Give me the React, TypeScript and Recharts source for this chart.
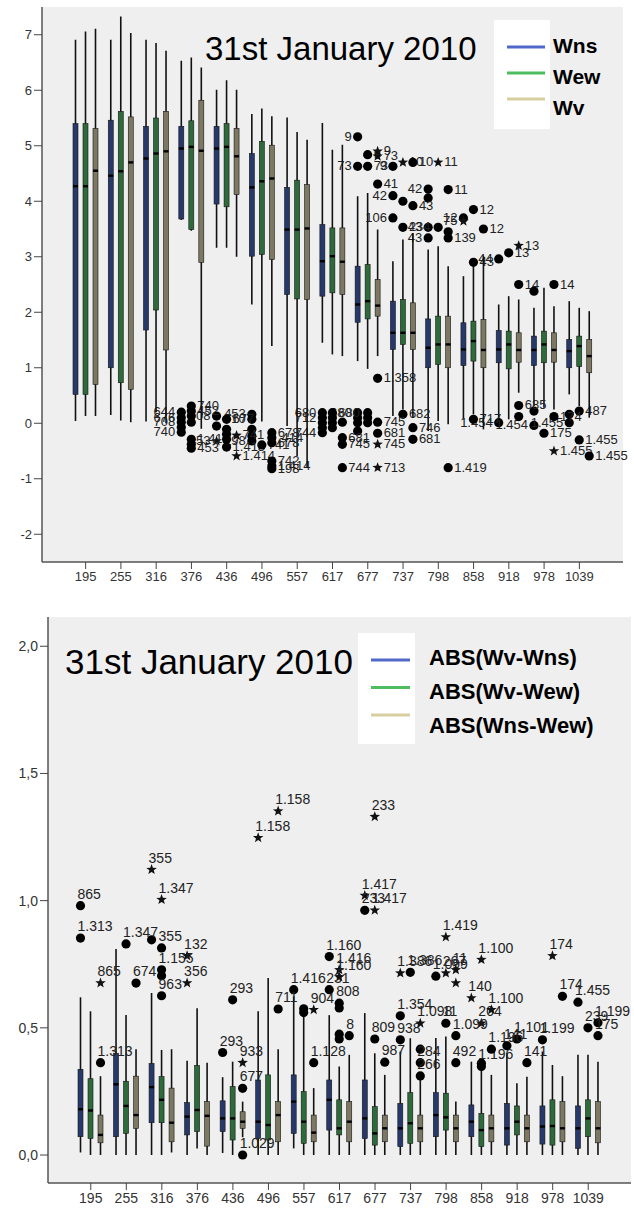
import React from 'react';
import { ComposedChart, Bar, XAxis, YAxis, CartesianGrid } from 'recharts';

const categories = ['195', '255', '316', '376', '436', '496', '557', '617', '677', '737', '798', '858', '918', '978', '1039'];

// box stats per category: [whisker low, Q1, median, Q3, whisker high]
const topWns = [
  [0.04, 0.52, 4.27, 5.4, 6.91], [0.15, 1.0, 4.46, 5.46, 6.91], [0.03, 1.68, 4.77, 5.35, 6.91],
  [3.66, 3.68, 4.95, 5.35, 6.53], [3.16, 3.95, 4.95, 5.35, 6.01], [2.14, 3.01, 4.25, 4.86, 5.57],
  [-0.05, 2.32, 3.49, 4.25, 5.51], [1.45, 2.29, 2.92, 3.58, 5.41], [1.12, 1.82, 2.14, 2.83, 4.09],
  [0.13, 1.33, 1.63, 2.2, 2.92], [-0.14, 1.0, 1.36, 1.88, 3.13], [0.07, 1.04, 1.33, 1.81, 2.65],
  [0.07, 1.09, 1.33, 1.67, 2.14], [0.31, 1.04, 1.32, 1.57, 2.08], [0.52, 1.0, 1.3, 1.51, 2.2],
];
const topWew = [
  [0.13, 0.52, 4.27, 5.4, 7.06], [0.05, 0.73, 4.54, 5.62, 7.33], [0.2, 2.04, 4.86, 5.5, 6.85],
  [3.47, 3.49, 4.98, 5.45, 6.59], [3.16, 3.9, 4.98, 5.4, 6.18], [0.03, 3.04, 4.36, 5.08, 5.67],
  [-0.59, 2.24, 3.49, 4.38, 5.25], [1.24, 2.35, 3.01, 3.52, 4.93], [0.98, 1.88, 2.2, 2.86, 4.15],
  [0.25, 1.42, 1.63, 2.23, 3.31], [0.04, 1.06, 1.42, 1.93, 3.19], [0.16, 1.12, 1.48, 1.84, 2.83],
  [0.07, 0.98, 1.42, 1.66, 2.29], [0.28, 1.09, 1.42, 1.66, 2.44], [0.31, 1.02, 1.39, 1.57, 2.08],
];
const topWv = [
  [0.13, 0.7, 4.55, 5.31, 7.11], [0.02, 0.61, 4.7, 5.52, 7.03], [0.0, 1.32, 4.9, 5.62, 6.71],
  [-0.1, 2.9, 4.91, 5.82, 6.41], [3.0, 4.12, 4.81, 5.31, 6.01], [1.39, 2.95, 4.41, 5.01, 5.53],
  [-0.8, 2.23, 3.51, 4.3, 5.11], [1.21, 2.32, 2.91, 3.52, 5.02], [1.21, 1.93, 2.12, 2.59, 3.49],
  [0.1, 1.33, 1.63, 2.17, 3.43], [-0.02, 1.0, 1.42, 1.93, 2.83], [-0.11, 1.0, 1.32, 1.87, 3.01],
  [0.55, 1.1, 1.32, 1.63, 2.23], [0.25, 1.1, 1.32, 1.63, 2.11], [0.1, 0.91, 1.21, 1.51, 2.02],
];

const absVnsBox = [
  [0.01, 0.072, 0.18, 0.337, 0.62], [0.0, 0.072, 0.278, 0.4, 0.81], [0.0, 0.127, 0.267, 0.36, 0.637],
  [0.0, 0.079, 0.151, 0.206, 0.371], [0.008, 0.092, 0.144, 0.213, 0.306], [0.0, 0.065, 0.131, 0.295, 0.565],
  [0.026, 0.085, 0.21, 0.315, 0.624], [0.0, 0.098, 0.217, 0.295, 0.55], [0.0, 0.065, 0.144, 0.295, 0.558],
  [0.0, 0.033, 0.105, 0.203, 0.407], [0.0, 0.072, 0.157, 0.245, 0.46], [0.0, 0.072, 0.131, 0.197, 0.367],
  [0.0, 0.039, 0.105, 0.203, 0.4], [0.0, 0.043, 0.112, 0.193, 0.407], [0.0, 0.026, 0.105, 0.193, 0.394],
];
const absVewBox = [
  [0.0, 0.065, 0.175, 0.3, 0.565], [0.0, 0.085, 0.193, 0.29, 0.55], [0.0, 0.127, 0.217, 0.308, 0.413],
  [0.026, 0.092, 0.177, 0.352, 0.577], [0.0, 0.059, 0.144, 0.269, 0.367], [0.0, 0.059, 0.118, 0.315, 0.696],
  [0.0, 0.046, 0.131, 0.249, 0.55], [0.0, 0.079, 0.105, 0.217, 0.348], [0.0, 0.039, 0.085, 0.19, 0.4],
  [0.0, 0.046, 0.125, 0.245, 0.459], [0.0, 0.098, 0.148, 0.243, 0.466], [0.0, 0.033, 0.098, 0.164, 0.341],
  [0.0, 0.079, 0.131, 0.193, 0.282], [0.0, 0.039, 0.114, 0.217, 0.354], [0.0, 0.072, 0.144, 0.217, 0.394],
];
const absNsEwBox = [
  [0.0, 0.048, 0.079, 0.157, 0.31], [0.0, 0.105, 0.157, 0.31, 0.416], [0.01, 0.052, 0.127, 0.263, 0.416],
  [0.0, 0.035, 0.154, 0.21, 0.363], [0.07, 0.105, 0.131, 0.17, 0.21], [0.0, 0.052, 0.157, 0.21, 0.416],
  [0.0, 0.052, 0.088, 0.157, 0.263], [0.0, 0.052, 0.131, 0.21, 0.394], [0.0, 0.052, 0.105, 0.157, 0.315],
  [0.0, 0.052, 0.105, 0.157, 0.31], [0.0, 0.052, 0.105, 0.157, 0.21], [0.0, 0.052, 0.105, 0.157, 0.315],
  [0.0, 0.052, 0.105, 0.157, 0.308], [0.0, 0.052, 0.105, 0.21, 0.31], [0.0, 0.048, 0.105, 0.21, 0.367],
];

// outliers: [category index, series index, value, 'o' circle | '*' extreme, case label]
type Out = [number, number, number, string, string];

const topOutliers: Out[] = [
  [3, 0, 0.2, 'o', '644'], [3, 0, 0.1, 'o', '676'], [3, 0, 0.02, 'o', '708'], [3, 0, -0.07, 'o', ''], [3, 0, -0.16, 'o', '740'],
  [3, 1, 0.31, 'o', '740'], [3, 1, 0.22, 'o', '452'], [3, 1, 0.13, 'o', ''], [3, 1, 0.02, 'o', ''],
  [3, 1, -0.29, 'o', '1.412'], [3, 1, -0.38, 'o', ''], [3, 1, -0.45, 'o', '453'],
  [4, 0, 0.13, 'o', '708'], [4, 0, -0.05, 'o', ''], [4, 0, -0.32, '*', '453'],
  [4, 1, 0.07, 'o', '677'], [4, 1, -0.11, 'o', ''], [4, 1, -0.2, 'o', ''], [4, 1, -0.29, 'o', ''], [4, 1, -0.43, 'o', '1.413'],
  [4, 2, -0.22, '*', '741'], [4, 2, -0.59, '*', '1.414'],
  [5, 0, 0.16, 'o', '453'], [5, 0, 0.07, 'o', '710'], [5, 0, -0.11, 'o', ''], [5, 0, -0.23, 'o', ''], [5, 0, -0.32, 'o', '198'],
  [5, 1, -0.39, 'o', '741'],
  [5, 2, -0.17, 'o', '678'], [5, 2, -0.26, 'o', '.414'], [5, 2, -0.35, 'o', '678'], [5, 2, -0.68, 'o', '742'],
  [5, 2, -0.77, 'o', '1.414'], [5, 2, -0.82, 'o', '198'],
  [7, 0, 0.19, 'o', '680'], [7, 0, 0.1, 'o', '712'], [7, 0, 0.01, 'o', ''], [7, 0, -0.08, 'o', ''], [7, 0, -0.17, 'o', '744'],
  [7, 1, 0.19, 'o', '680'], [7, 1, 0.1, 'o', ''], [7, 1, 0.01, 'o', ''], [7, 1, -0.08, 'o', ''],
  [7, 2, 0.02, 'o', ''], [7, 2, -0.26, 'o', '681'], [7, 2, -0.38, 'o', '745'], [7, 2, -0.8, 'o', '744'],
  [8, 0, 5.16, 'o', '9'], [8, 0, 4.63, 'o', '73'], [8, 0, 0.19, 'o', '680'], [8, 0, 0.1, 'o', ''], [8, 0, 0.01, 'o', ''], [8, 0, -0.14, 'o', ''],
  [8, 1, 4.84, 'o', '9'], [8, 1, 4.63, 'o', '73'], [8, 1, 0.19, 'o', ''], [8, 1, 0.1, 'o', ''], [8, 1, 0.01, 'o', ''],
  [8, 2, 4.9, '*', '9'], [8, 2, 4.81, '*', '73'], [8, 2, 4.31, 'o', '41'], [8, 2, 0.81, 'o', '1.358'],
  [8, 2, 0.02, 'o', '745'], [8, 2, -0.18, 'o', '681'], [8, 2, -0.38, '*', '745'], [8, 2, -0.8, '*', '713'],
  [9, 0, 4.63, 'o', '9'], [9, 0, 4.1, 'o', '42'], [9, 0, 3.7, 'o', '106'],
  [9, 1, 4.7, '*', '10'], [9, 1, 4.0, 'o', ''], [9, 1, 3.53, 'o', '234'], [9, 1, 0.16, 'o', '682'],
  [9, 2, 4.7, 'o', '10'], [9, 2, 3.92, 'o', '43'], [9, 2, -0.08, 'o', '746'], [9, 2, -0.29, 'o', '681'],
  [10, 0, 4.22, 'o', '42'], [10, 0, 4.06, 'o', ''], [10, 0, 3.53, 'o', '43'], [10, 0, 3.34, 'o', '43'],
  [10, 1, 4.7, '*', '11'], [10, 1, 3.53, 'o', ''],
  [10, 2, 4.21, 'o', '11'], [10, 2, 3.45, 'o', ''], [10, 2, 3.34, 'o', '139'], [10, 2, -0.8, 'o', '1.419'],
  [11, 0, 3.7, 'o', '12'], [11, 0, 3.64, '*', '75'],
  [11, 1, 3.85, 'o', '12'], [11, 1, 2.9, 'o', '43'], [11, 1, 0.07, 'o', '717'],
  [11, 2, 3.5, 'o', '12'],
  [12, 0, 2.96, 'o', '44'], [12, 0, 0.01, 'o', '1.454'],
  [12, 1, 3.07, 'o', '13'],
  [12, 2, 3.2, '*', '13'], [12, 2, 2.5, 'o', '14'], [12, 2, 0.32, 'o', '685'], [12, 2, 0.12, 'o', ''],
  [13, 0, 2.38, 'o', ''], [13, 0, 0.22, 'o', ''], [13, 0, -0.04, 'o', '1.454'],
  [13, 1, -0.18, 'o', '175'],
  [13, 2, 2.5, 'o', '14'], [13, 2, 0.12, 'o', '174'], [13, 2, -0.5, '*', '1.455'],
  [14, 0, 0.16, 'o', ''], [14, 0, 0.01, 'o', '1.455'],
  [14, 1, 0.22, 'o', '487'], [14, 1, -0.3, 'o', '1.455'],
  [14, 2, -0.59, 'o', '1.455'],
];

const bottomOutliers: Out[] = [
  [0, 0, 0.98, 'o', '865'], [0, 0, 0.853, 'o', '1.313'],
  [0, 2, 0.676, '*', '865'], [0, 2, 0.363, 'o', '1.313'],
  [1, 1, 0.83, 'o', '1.347'],
  [1, 2, 0.676, 'o', '674'],
  [2, 0, 1.122, '*', '355'], [2, 0, 0.846, 'o', ''],
  [2, 1, 1.004, '*', '1.347'], [2, 1, 0.814, 'o', '355'], [2, 1, 0.728, 'o', '1.155'], [2, 1, 0.705, 'o', ''], [2, 1, 0.626, 'o', '963'],
  [3, 0, 0.783, '*', '132'], [3, 0, 0.676, '*', '356'],
  [4, 0, 0.403, 'o', '293'],
  [4, 1, 0.61, 'o', '293'],
  [4, 2, 0.363, '*', '933'], [4, 2, 0.262, 'o', '677'], [4, 2, 0.0, 'o', '1.029'],
  [5, 0, 1.247, '*', '1.158'],
  [5, 2, 1.352, '*', '1.158'], [5, 2, 0.574, 'o', '711'],
  [6, 0, 0.65, 'o', '1.416'],
  [6, 1, 0.575, 'o', ''], [6, 1, 0.56, 'o', ''],
  [6, 2, 0.571, '*', '904'], [6, 2, 0.363, 'o', '1.128'],
  [7, 0, 0.78, 'o', '1.160'], [7, 0, 0.65, 'o', '231'],
  [7, 1, 0.728, '*', '1.416'], [7, 1, 0.7, '*', '1.160'], [7, 1, 0.597, 'o', '808'], [7, 1, 0.578, 'o', ''],
  [7, 1, 0.475, 'o', ''], [7, 1, 0.456, 'o', ''],
  [7, 2, 0.469, 'o', '8'],
  [8, 0, 1.02, '*', '1.417'], [8, 0, 0.962, 'o', '233'],
  [8, 1, 1.33, '*', '233'], [8, 1, 0.962, '*', '1.417'], [8, 1, 0.456, 'o', '809'],
  [8, 2, 0.365, 'o', '987'],
  [9, 0, 0.715, '*', '1.386'], [9, 0, 0.547, 'o', '1.354'], [9, 0, 0.453, 'o', '938'],
  [9, 1, 0.718, 'o', '1.386'],
  [9, 2, 0.518, '*', '1.098'], [9, 2, 0.416, 'o', ''], [9, 2, 0.363, 'o', '284'], [9, 2, 0.311, 'o', '266'],
  [10, 0, 0.703, 'o', '1.099'],
  [10, 1, 0.857, '*', '1.419'], [10, 1, 0.715, '*', '267'], [10, 1, 0.518, 'o', '11'],
  [10, 2, 0.728, '*', '11'], [10, 2, 0.676, '*', ''], [10, 2, 0.469, 'o', '1.099'], [10, 2, 0.363, 'o', '492'],
  [11, 0, 0.617, '*', '140'],
  [11, 1, 0.768, '*', '1.100'], [11, 1, 0.518, '*', '204'], [11, 1, 0.361, 'o', ''], [11, 1, 0.348, 'o', '1.196'],
  [11, 2, 0.571, '*', '1.100'], [11, 2, 0.416, 'o', '1.196'],
  [12, 0, 0.43, 'o', '141'],
  [12, 1, 0.456, 'o', '1.101'],
  [12, 2, 0.363, 'o', '141'],
  [13, 0, 0.453, 'o', '1.199'],
  [13, 1, 0.783, '*', '174'],
  [13, 2, 0.624, 'o', '174'],
  [14, 0, 0.601, 'o', '1.455'],
  [14, 1, 0.5, 'o', '239'],
  [14, 2, 0.52, 'o', '1.199'], [14, 2, 0.469, 'o', '175'],
];

const topSeries = ['Wns', 'Wew', 'Wv'];
const bottomSeries = ['ABS(Wv-Wns)', 'ABS(Wv-Wew)', 'ABS(Wns-Wew)'];
const topTicks = [-2, -1, 0, 1, 2, 3, 4, 5, 6, 7];
const bottomTicks = [0, 0.5, 1, 1.5, 2];
const title = '31st January 2010';

const boxFill = ['#27386b', '#2d6b3b', '#7d7862'];
const legendLine = ['#5068c8', '#4dbd5e', '#d8cfa0'];
const FONT = '"Liberation Sans", Arial, sans-serif';

function buildRows(boxes: number[][][], outs: Out[]) {
  return categories.map((cat, i) => ({
    cat,
    boxes: boxes.map((b) => b[i]),
    outs: boxes.map((_, s) => outs.filter((o) => o[0] === i && o[1] === s)),
  }));
}

const topRows = buildRows([topWns, topWew, topWv], topOutliers);
const bottomRows = buildRows([absVnsBox, absVewBox, absNsEwBox], bottomOutliers);

function starPoints(cx: number, cy: number, R: number, r: number) {
  const pts: string[] = [];
  for (let k = 0; k < 10; k++) {
    const a = -Math.PI / 2 + (k * Math.PI) / 5;
    const rr = k % 2 ? r : R;
    pts.push(`${cx + rr * Math.cos(a)},${cy + rr * Math.sin(a)}`);
  }
  return pts.join(' ');
}

// one box + whisker + outliers; pixel positions come from the bar's own range [low, high]
function BoxShape(props: any) {
  const { x, y, width, height, payload, s, mode } = props;
  const b = payload.boxes[s];
  const [lo, q1, med, q3, hi] = b;
  const top = Math.min(y, y + height);
  const bot = Math.max(y, y + height);
  const py = (v: number) => bot - ((v - lo) / (hi - lo)) * (bot - top);
  const cx = x + width / 2;
  const fs = mode === 'top' ? 13 : 14;
  return (
    <g>
      <line x1={cx} x2={cx} y1={py(hi)} y2={py(lo)} stroke="#111" strokeWidth={1.6} />
      <rect x={x} y={py(q3)} width={width} height={Math.max(1, py(q1) - py(q3))} fill={boxFill[s]} stroke="#151515" strokeWidth={0.6} />
      <rect x={x} y={py(med) - 1.2} width={width} height={2.4} fill="#000" />
      {payload.outs[s].map((o: Out, k: number) => {
        const oy = py(o[2]);
        let tx = cx - 3, ty = oy - 7, anchor = 'start';
        if (mode === 'top') {
          ty = oy + 4;
          if (s === 0) { tx = cx - 6; anchor = 'end'; } else { tx = cx + 6; }
        }
        return (
          <g key={k}>
            {o[3] === '*'
              ? <polygon points={starPoints(cx, oy, 5.5, 2.3)} fill="#111" />
              : <circle cx={cx} cy={oy} r={4.6} fill="#000" />}
            {o[4] && (
              <text x={tx} y={ty} fontSize={fs} fill="#222" textAnchor={anchor as any} fontFamily={FONT}>{o[4]}</text>
            )}
          </g>
        );
      })}
    </g>
  );
}

function BoxPanel({ rows, domain, ticks, height, margin, yWidth, xHeight, pad, fs, fmt, mode }: any) {
  return (
    <ComposedChart width={634} height={height} data={rows} margin={margin} barSize={5} barGap={5}>
      <CartesianGrid fill="#efefef" horizontal={false} vertical={false} />
      <XAxis dataKey="cat" type="category" interval={0} padding={{ left: pad, right: pad }} height={xHeight}
        tickSize={7} tickMargin={3} tickLine={{ stroke: '#444' }} axisLine={{ stroke: '#555', strokeWidth: 1.5 }}
        tick={{ fontSize: fs, fill: '#333', fontFamily: FONT }} />
      <XAxis xAxisId="frame" orientation="top" dataKey="cat" height={0} tick={false} tickLine={false}
        axisLine={{ stroke: '#555', strokeWidth: 1.5 }} />
      <YAxis type="number" domain={domain} ticks={ticks} allowDataOverflow width={yWidth}
        tickSize={8} tickMargin={2} tickLine={{ stroke: '#444' }} axisLine={{ stroke: '#555', strokeWidth: 1.5 }}
        tickFormatter={fmt} tick={{ fontSize: fs, fill: '#333', fontFamily: FONT }} />
      <YAxis yAxisId="frame" orientation="right" type="number" domain={domain} width={0} tick={false} tickLine={false}
        axisLine={{ stroke: '#555', strokeWidth: 1.5 }} />
      {[0, 1, 2].map((s) => (
        <Bar key={s} dataKey={(r: any) => [r.boxes[s][0], r.boxes[s][4]]} isAnimationActive={false}
          shape={(p: any) => <BoxShape {...p} s={s} mode={mode} />} />
      ))}
    </ComposedChart>
  );
}

export default function App() {
  return (
    <div style={{ position: 'absolute', left: 0, top: 0, width: 634, height: 1209, background: '#fff', fontFamily: FONT }}>
      <div style={{ position: 'absolute', left: 0, top: 0 }}>
        <BoxPanel rows={topRows} domain={[-2.5, 7.5]} ticks={topTicks} height={600}
          margin={{ top: 7, right: 11, left: 0, bottom: 0 }} yWidth={42} xHeight={38} pad={26} fs={13}
          fmt={(v: number) => String(v)} mode="top" />
      </div>
      <div style={{ position: 'absolute', left: 0, top: 600 }}>
        <BoxPanel rows={bottomRows} domain={[-0.11, 2.115]} ticks={bottomTicks} height={609}
          margin={{ top: 17, right: 3, left: 0, bottom: 0 }} yWidth={48} xHeight={26} pad={25} fs={14}
          fmt={(v: number) => v.toFixed(1).replace('.', ',')} mode="bottom" />
      </div>
      <svg width={634} height={1209} style={{ position: 'absolute', left: 0, top: 0, pointerEvents: 'none' }}>
        <text x={205} y={60} fontSize={33} fill="#000" fontFamily={FONT}>{title}</text>
        <rect x={494} y={20} width={56} height={109} fill="#fff" />
        {topSeries.map((name, i) => (
          <g key={name}>
            <line x1={507} x2={545} y1={47 + i * 26} y2={47 + i * 26} stroke={legendLine[i]} strokeWidth={3} />
            <text x={553} y={53 + i * 31} fontSize={21} fontWeight="bold" fill="#000" fontFamily={FONT}>{name}</text>
          </g>
        ))}
        <text x={65} y={674} fontSize={35} fill="#000" fontFamily={FONT}>{title}</text>
        <rect x={358} y={633} width={57} height={111} fill="#fff" />
        {bottomSeries.map((name, i) => (
          <g key={name}>
            <line x1={371} x2={410} y1={660 + i * 27.5} y2={660 + i * 27.5} stroke={legendLine[i]} strokeWidth={3} />
            <text x={429} y={665 + i * 34} fontSize={22} fontWeight="bold" fill="#000" fontFamily={FONT}>{name}</text>
          </g>
        ))}
      </svg>
    </div>
  );
}
